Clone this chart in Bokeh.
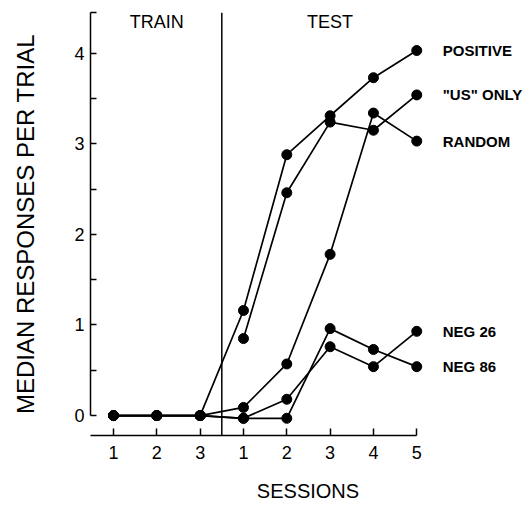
import math
from bokeh.plotting import figure
from bokeh.models import FixedTicker, Span, Range1d
from bokeh.core.properties import value
from bokeh.embed import file_html
from bokeh.resources import INLINE

nan = float("nan")

# x positions: 3 training sessions then 5 test sessions
positions = [1, 2, 3, 4, 5, 6, 7, 8]
session_labels = ["1", "2", "3", "1", "2", "3", "4", "5"]
phase_names = ["TRAIN", "TEST"]
phase_centers = [2, 6]
phase_divider = 3.5

# median responses per trial
positive = [0.0, 0.0, 0.0, 1.16, 2.88, 3.31, 3.73, 4.03]
us_only = [nan, nan, nan, 0.85, 2.46, 3.24, 3.15, 3.54]
random_ = [0.0, 0.0, 0.0, 0.09, 0.57, 1.78, 3.34, 3.03]
neg26 = [0.0, 0.0, 0.0, -0.03, 0.18, 0.76, 0.54, 0.93]
neg86 = [0.0, 0.0, 0.0, -0.03, -0.03, 0.96, 0.73, 0.54]

series = [positive, us_only, random_, neg26, neg86]
series_names = ["POSITIVE", '"US" ONLY', "RANDOM", "NEG 26", "NEG 86"]

y_ticks = [0, 1, 2, 3, 4]
y_minor = [0.5, 1.5, 2.5, 3.5, 4.45]

FONT = "Liberation Sans"

p = figure(width=530, height=506, output_backend="svg", toolbar_location=None,
           x_range=Range1d(0.469, 10.51), y_range=Range1d(-0.22, 4.45),
           min_border_left=90, min_border_right=5, min_border_top=12,
           min_border_bottom=71)
p.outline_line_color = None
p.grid.visible = False
p.background_fill_color = "white"
p.border_fill_color = "white"

# x axis
xa = p.xaxis[0]
xa.ticker = FixedTicker(ticks=positions, minor_ticks=[])
xa.major_label_overrides = {pos: lab for pos, lab in zip(positions, session_labels)}
xa.bounds = (0.469, positions[-1])
xa.major_tick_in = 7
xa.major_tick_out = 0
xa.axis_line_width = 1.5
xa.major_tick_line_width = 1.5
xa.axis_line_color = "black"
xa.major_tick_line_color = "black"
xa.major_label_text_font = FONT
xa.major_label_text_font_size = "18px"
xa.major_label_text_color = "black"
xa.major_label_standoff = 10
xa.axis_label = "SESSIONS"
xa.axis_label_text_font = FONT
xa.axis_label_text_font_size = "20px"
xa.axis_label_text_font_style = "normal"
xa.axis_label_text_color = "black"
xa.axis_label_standoff = 18

# y axis
ya = p.yaxis[0]
ya.ticker = FixedTicker(ticks=y_ticks, minor_ticks=y_minor)
ya.bounds = (0, 4.45)
ya.major_tick_in = 6
ya.major_tick_out = 0
ya.minor_tick_in = 6
ya.minor_tick_out = 0
ya.axis_line_width = 1.5
ya.major_tick_line_width = 1.5
ya.minor_tick_line_width = 1.5
ya.axis_line_color = "black"
ya.major_tick_line_color = "black"
ya.minor_tick_line_color = "black"
ya.major_label_text_font = FONT
ya.major_label_text_font_size = "18px"
ya.major_label_text_color = "black"
ya.major_label_standoff = 6
ya.axis_label = "MEDIAN RESPONSES PER TRIAL"
ya.axis_label_text_font = FONT
ya.axis_label_text_font_size = "24px"
ya.axis_label_text_font_style = "normal"
ya.axis_label_text_color = "black"
ya.axis_label_standoff = 32

# train / test divider
p.add_layout(Span(location=phase_divider, dimension="height",
                  line_color="black", line_width=1.5))

p.text(x=phase_centers, y=[4.35, 4.35], text=phase_names,
       text_align="center", text_baseline="middle",
       text_font=value(FONT), text_font_size="18px", text_color="black")

for s in series:
    p.line(positions, s, line_color="black", line_width=1.7)
    p.scatter(positions, s, size=10, color="black")

end_y = [s[-1] for s in series]
p.text(x=[positions[-1]] * len(series), y=end_y, text=series_names,
       x_offset=26, text_align="left", text_baseline="middle",
       text_font=value(FONT), text_font_size="15px", text_font_style="bold",
       text_color="black")

open("out.html", "w").write(file_html(p, INLINE))
